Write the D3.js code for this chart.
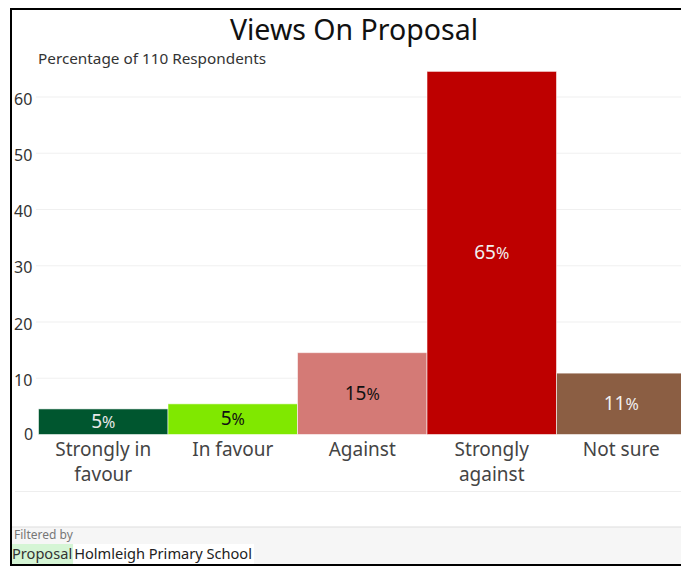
<!DOCTYPE html>
<html>
<head>
<meta charset="utf-8">
<script src="https://cdn.jsdelivr.net/npm/d3@7"></script>
<style>
  html, body { margin: 0; padding: 0; background: #fff; }
  svg { display: block; font-family: "Noto Sans", "Open Sans", sans-serif; }
</style>
</head>
<body>
<svg id="chart" width="681" height="566"></svg>
<script>
// Survey responses: share of respondents per answer
const categories = ["Strongly in favour", "In favour", "Against", "Strongly against", "Not sure"];
const categoryLines = [["Strongly in", "favour"], ["In favour"], ["Against"], ["Strongly", "against"], ["Not sure"]];
const percentages = [4.55, 5.45, 14.55, 64.55, 10.91];
const barColors = ["#00562f", "#80e800", "#d47a76", "#be0000", "#8b5e43"];
const labelColors = ["#e8e8e8", "#111111", "#111111", "#f0f0f0", "#f0f0f0"];
const yTicks = [0, 10, 20, 30, 40, 50, 60];
const title = "Views On Proposal";
const subtitle = "Percentage of 110 Respondents";
const filterCaption = "Filtered by";
const filterField = "Proposal";
const filterValue = "Holmleigh Primary School";

const svg = d3.select("#chart");
const W = 681, H = 566;

svg.append("rect").attr("x", 0).attr("y", 0).attr("width", W).attr("height", H).attr("fill", "#fff");

const x = d3.scaleBand().domain(categories).range([38.5, 686]).paddingInner(0).paddingOuter(0);
const y = d3.scaleLinear().domain([0, 60]).range([434.5, 97]);

// Gridlines
svg.append("g").selectAll("line").data(yTicks.filter(d => d > 0)).join("line")
  .attr("x1", 36).attr("x2", W)
  .attr("y1", d => y(d)).attr("y2", d => y(d))
  .attr("stroke", "#f0f0f0").attr("stroke-width", 1.2);

// Lower divider below the category labels
svg.append("line").attr("x1", 15).attr("x2", W).attr("y1", 491.5).attr("y2", 491.5)
  .attr("stroke", "#eeeeee").attr("stroke-width", 1.2);

// Y axis labels
const yAxis = d3.axisLeft(y).tickValues(yTicks).tickSize(0).tickPadding(0);
const gy = svg.append("g").attr("transform", "translate(36,0)").call(yAxis);
gy.select(".domain").remove();
gy.selectAll("text")
  .attr("x", -22).attr("text-anchor", "start")
  .attr("font-size", 16).attr("fill", "#333").attr("dy", "0.45em")
  .style("font-family", "'Noto Sans', sans-serif");
gy.selectAll("text").filter(d => d === 0).attr("x", -12).attr("dy", "0.3em");

// Bars
svg.append("g").selectAll("rect").data(categories).join("rect")
  .attr("x", d => x(d))
  .attr("width", x.bandwidth())
  .attr("y", (d, i) => y(percentages[i]))
  .attr("height", (d, i) => y(0) - y(percentages[i]))
  .attr("fill", (d, i) => barColors[i])
  .attr("stroke", "rgba(255,255,255,0.55)").attr("stroke-width", 1);

// Value labels centred in each bar
const vl = svg.append("g").selectAll("text").data(categories).join("text")
  .attr("x", d => x(d) + x.bandwidth() / 2)
  .attr("y", (d, i) => (y(percentages[i]) + y(0)) / 2)
  .attr("dy", "0.38em")
  .attr("text-anchor", "middle")
  .attr("fill", (d, i) => labelColors[i]);
vl.append("tspan").attr("font-size", 19).text((d, i) => Math.round(percentages[i]));
vl.append("tspan").attr("font-size", 16).text("%");

// Category labels
const cl = svg.append("g").selectAll("text").data(categories).join("text")
  .attr("text-anchor", "middle")
  .attr("font-size", 19)
  .attr("fill", "#444");
cl.selectAll("tspan").data((d, i) => categoryLines[i].map(t => ({ t, cx: x(d) + x.bandwidth() / 2 })))
  .join("tspan")
  .attr("x", d => d.cx)
  .attr("y", (d, j) => 456 + j * 25)
  .text(d => d.t);

// Title and subtitle
svg.append("text").attr("x", 354).attr("y", 40).attr("text-anchor", "middle")
  .attr("font-size", 28.5).attr("fill", "#111").text(title);
svg.append("text").attr("x", 38).attr("y", 64)
  .attr("font-size", 15.3).attr("fill", "#333").text(subtitle);

// Filter footer
const footer = svg.append("g");
footer.append("rect").attr("x", 11).attr("y", 527).attr("width", W - 11).attr("height", 38).attr("fill", "#f6f6f6");
footer.append("line").attr("x1", 11).attr("x2", W).attr("y1", 527).attr("y2", 527).attr("stroke", "#dddddd");
footer.append("text").attr("x", 14).attr("y", 539).attr("font-size", 12).attr("fill", "#777").text(filterCaption);
const fieldBg = footer.append("rect").attr("y", 544).attr("height", 20).attr("fill", "#d5f5d5");
const fieldText = footer.append("text").attr("x", 12).attr("y", 559).attr("font-size", 14.6).attr("fill", "#333").text(filterField);
const fw = fieldText.node().getComputedTextLength();
fieldBg.attr("x", 11).attr("width", fw + 2);
const valueBg = footer.append("rect").attr("x", 13 + fw).attr("y", 544).attr("height", 20).attr("fill", "#fff");
const valueText = footer.append("text").attr("x", 14 + fw).attr("y", 559).attr("font-size", 14.6).attr("fill", "#222").text(filterValue);
valueBg.attr("width", valueText.node().getComputedTextLength() + 3);

// Outer border (left, top, bottom)
svg.append("path")
  .attr("d", `M${W},9 H11 V565 H${W}`)
  .attr("fill", "none").attr("stroke", "#000").attr("stroke-width", 2);
</script>
</body>
</html>
